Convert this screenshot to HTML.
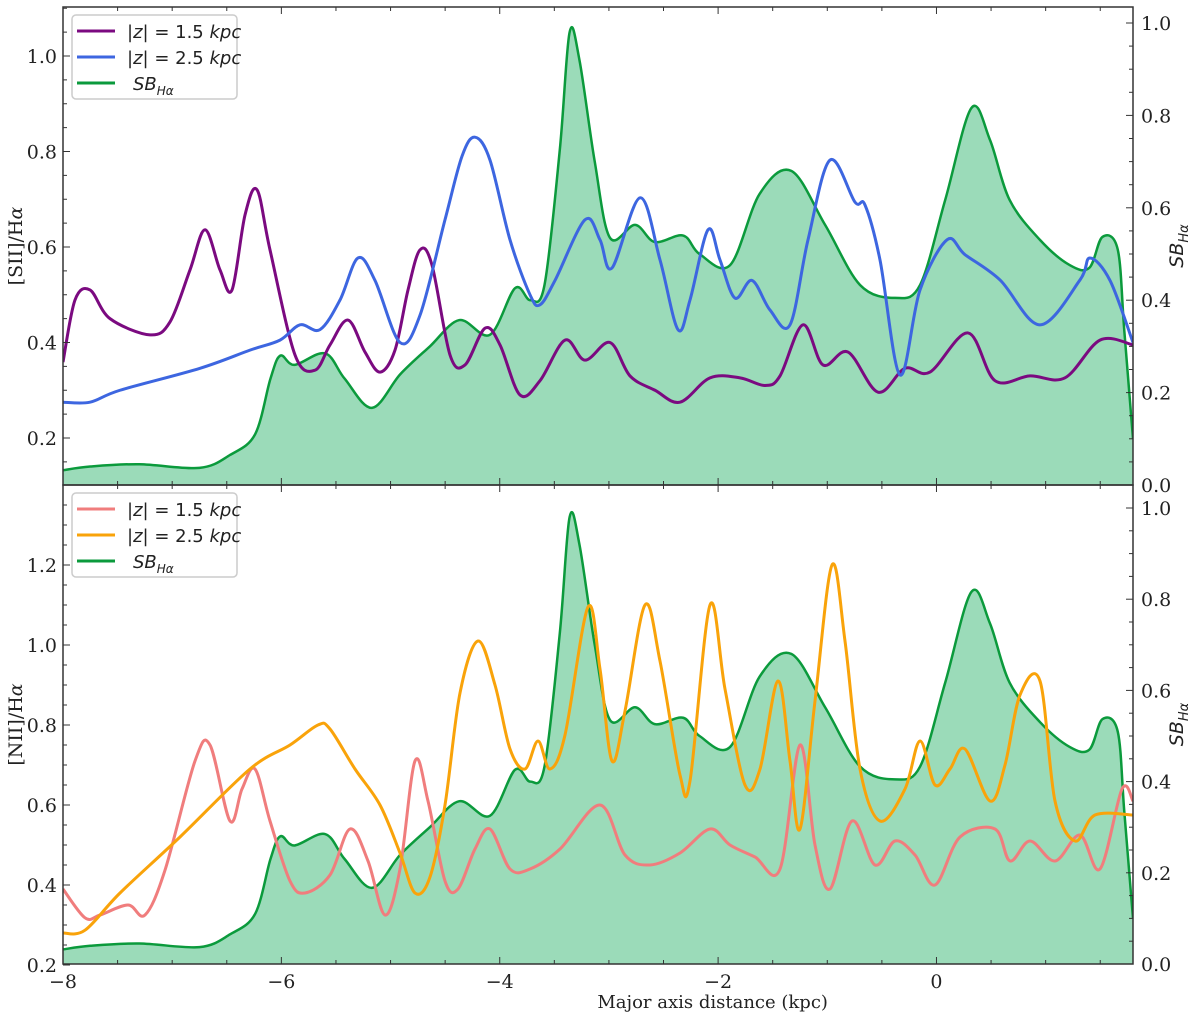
<!DOCTYPE html>
<html><head><meta charset="utf-8"><style>
body{margin:0;background:#fff;}
svg text{font-family:"DejaVu Sans","Liberation Sans",sans-serif;}
.serif{font-family:"DejaVu Serif","Liberation Serif",serif;}
</style></head><body>
<svg id="c" width="1200" height="1015" xmlns="http://www.w3.org/2000/svg"></svg>
<script>
const sbX=[-8,-7.75,-7.3,-6.75,-6.47,-6.24,-6.1,-6.01,-5.88,-5.6,-5.42,-5.17,-4.91,-4.64,-4.37,-4.09,-3.86,-3.72,-3.59,-3.45,-3.36,-3.27,-3.13,-2.99,-2.76,-2.58,-2.32,-2.17,-1.89,-1.62,-1.33,-1.02,-0.7,-0.38,-0.15,0.08,0.32,0.49,0.67,0.95,1.22,1.4,1.52,1.66,1.72,1.8];
const sbV=[0.032,0.04,0.045,0.037,0.065,0.11,0.23,0.28,0.26,0.285,0.23,0.167,0.24,0.3,0.357,0.325,0.426,0.4,0.433,0.725,0.98,0.92,0.7,0.535,0.563,0.526,0.54,0.5,0.476,0.63,0.68,0.563,0.433,0.405,0.433,0.617,0.816,0.747,0.617,0.53,0.476,0.47,0.537,0.51,0.335,0.1];
const pxTop=[63,75,90,110,150,170,190,205,220,232,245,257,270,295,315,330,348,365,380,395,408,420,432,450,465,485,500,520,540,565,585,610,630,655,680,710,740,765,780,803,823,848,878,905,930,968,995,1030,1065,1100,1133];
const s15=[0.359,0.489,0.51,0.45,0.416,0.443,0.552,0.636,0.552,0.51,0.667,0.72,0.594,0.374,0.342,0.395,0.447,0.38,0.338,0.384,0.51,0.594,0.562,0.374,0.353,0.43,0.395,0.29,0.32,0.405,0.363,0.4,0.33,0.3,0.275,0.326,0.326,0.31,0.33,0.437,0.353,0.38,0.296,0.346,0.338,0.42,0.32,0.33,0.326,0.405,0.395];
const pxBlue=[63,90,120,200,250,280,300,320,340,358,375,400,420,445,462,475,490,510,530,540,555,585,600,612,640,660,678,690,708,720,735,752,770,790,808,830,855,865,880,900,920,947,965,1000,1040,1080,1090,1110,1133];
const s25=[0.275,0.275,0.3,0.346,0.384,0.405,0.437,0.427,0.489,0.577,0.53,0.4,0.457,0.657,0.79,0.83,0.782,0.615,0.5,0.479,0.53,0.657,0.615,0.556,0.703,0.573,0.427,0.489,0.636,0.573,0.493,0.53,0.468,0.437,0.615,0.782,0.694,0.688,0.573,0.332,0.51,0.615,0.584,0.531,0.437,0.531,0.577,0.53,0.4];
const pxPink=[63,85,100,128,145,165,195,210,230,242,255,270,290,305,330,350,368,385,400,415,428,445,458,475,490,510,530,560,600,625,650,680,710,730,755,780,800,815,830,852,875,895,915,935,960,995,1010,1030,1055,1080,1100,1122,1133];
const n15=[0.39,0.318,0.325,0.35,0.325,0.437,0.71,0.75,0.56,0.64,0.69,0.56,0.41,0.38,0.425,0.54,0.46,0.325,0.44,0.71,0.61,0.41,0.39,0.49,0.54,0.44,0.44,0.49,0.6,0.475,0.45,0.48,0.54,0.5,0.47,0.44,0.75,0.5,0.39,0.56,0.45,0.51,0.475,0.4,0.52,0.54,0.46,0.51,0.46,0.525,0.44,0.64,0.61];
const pxOr=[63,85,120,180,250,290,318,330,355,380,400,415,430,445,460,478,495,510,525,538,550,565,588,600,612,625,645,660,680,690,710,725,745,760,778,790,800,815,832,845,860,880,905,920,935,950,965,990,1005,1020,1040,1055,1075,1095,1133];
const n25=[0.28,0.287,0.38,0.52,0.69,0.75,0.8,0.79,0.69,0.6,0.48,0.38,0.42,0.6,0.88,1.01,0.9,0.74,0.69,0.76,0.69,0.775,1.095,0.94,0.71,0.835,1.1,0.96,0.675,0.66,1.1,0.89,0.65,0.69,0.91,0.71,0.54,0.86,1.2,1.01,0.69,0.56,0.64,0.76,0.65,0.69,0.74,0.61,0.7,0.875,0.91,0.61,0.51,0.575,0.575];
const xTicks=[-8,-6,-4,-2,0];
const topLTicks=[0.2,0.4,0.6,0.8,1.0];
const botLTicks=[0.2,0.4,0.6,0.8,1.0,1.2];
const rTicks=[0.0,0.2,0.4,0.6,0.8,1.0];

const NS="http://www.w3.org/2000/svg";
const svg=document.getElementById('c');
const X0=63,X1=1133;
const X=v=>X0+(v+8)*(X1-X0)/9.8;
const P2K=p=>(p-X0)*9.8/(X1-X0)-8;
const T={top:7,bot:485,L:v=>56+(1.0-v)*477.5,R:v=>485-v*462};
const B={top:485,bot:964,L:v=>565+(1.2-v)*400,R:v=>964-v*456};
function el(t,a,p){const e=document.createElementNS(NS,t);for(const k in a)e.setAttribute(k,a[k]);(p||svg).appendChild(e);return e;}
function path(xs,ys){let pts=xs.map((x,i)=>[x,ys[i]]);let d=`M${pts[0][0]},${pts[0][1]}`;
 for(let i=0;i<pts.length-1;i++){const p0=pts[Math.max(0,i-1)],p1=pts[i],p2=pts[i+1],p3=pts[Math.min(pts.length-1,i+2)];
 d+=` C${p1[0]+(p2[0]-p0[0])/6},${p1[1]+(p2[1]-p0[1])/6} ${p2[0]-(p3[0]-p1[0])/6},${p2[1]-(p3[1]-p1[1])/6} ${p2[0]},${p2[1]}`;}return d;}
const clipD=el('defs',{});
function panel(P,name,ylab,lt,series,legendLabels){
 const g=el('g',{});
 
 
 const cp=el('clipPath',{id:'cp'+name},clipD);el('rect',{x:X0,y:P.top,width:X1-X0,height:P.bot-P.top},cp);
 const cg=el('g',{'clip-path':`url(#cp${name})`},g);
 const sx=sbX.map(X),sy=sbV.map(P.R);
 const fill=el('path',{d:path(sx,sy)+` L${sx[sx.length-1]},${P.R(0)} L${sx[0]},${P.R(0)} Z`,fill:'#9bdbb9',stroke:'none'},cg);
 
 
 const sl=el('path',{d:path(sx,sy),fill:'none',stroke:'#0b9a3c','stroke-width':2.5},cg);
 
 
 series.forEach(s=>{const l=el('path',{d:path(s.px.map(p=>X(P2K(p))),s.v.map(P.L)),fill:'none',stroke:s.c,'stroke-width':3},cg);
  
  });
 el('rect',{x:X0,y:P.top,width:X1-X0,height:P.bot-P.top,fill:'none',stroke:'#333','stroke-width':1.5},g);
 xTicks.forEach(v=>{el('line',{x1:X(v),x2:X(v),y1:P.bot,y2:P.bot-7,stroke:'#333'},g);el('line',{x1:X(v),x2:X(v),y1:P.top,y2:P.top+7,stroke:'#333'},g);});
 for(let v=-7.5;v<1.8;v+=0.5){if(v%2===0)continue;el('line',{x1:X(v),x2:X(v),y1:P.bot,y2:P.bot-4,stroke:'#333'},g);el('line',{x1:X(v),x2:X(v),y1:P.top,y2:P.top+4,stroke:'#333'},g);}
 lt.forEach(v=>{const y=P.L(v);el('line',{x1:X0,x2:X0+7,y1:y,y2:y,stroke:'#333'},g);
  const t=el('text',{x:X0-6,y:y+7,'text-anchor':'end','font-size':19,fill:'#222',class:'serif'},g);t.textContent=v.toFixed(1);
  
  });
 for(let v=0.15;v<1.4;v+=0.05){const y=P.L(v);if(y<P.top||y>P.bot)continue;el('line',{x1:X0,x2:X0+4,y1:y,y2:y,stroke:'#333'},g);}
 rTicks.forEach(v=>{const y=P.R(v);el('line',{x1:X1,x2:X1-7,y1:y,y2:y,stroke:'#333'},g);
  const t=el('text',{x:X1+8,y:y+7,'font-size':19,fill:'#222',class:'serif'},g);t.textContent=v.toFixed(1);
  
  });
 for(let v=0.05;v<1.05;v+=0.05){if(Math.abs(v*5-Math.round(v*5))<0.01)continue;const y=P.R(v);el('line',{x1:X1,x2:X1-4,y1:y,y2:y,stroke:'#333'},g);}
 const my=(P.top+P.bot)/2;
 const yl=el('text',{x:22,y:my,'text-anchor':'middle','font-size':19,fill:'#222',class:'serif',transform:`rotate(-90 22 ${my})`},g);yl.innerHTML=ylab;
 
 
 const rl=el('text',{x:1183,y:my,'text-anchor':'middle','font-size':19,fill:'#222','font-style':'italic',transform:`rotate(-90 1183 ${my})`},g);rl.innerHTML='SB<tspan font-size="13" dy="5">Hα</tspan>';
 
 
 const ly=P.top+8;
 const lg=el('g',{},g);
 
 
 el('rect',{x:72,y:ly,width:165,height:84,rx:4,fill:'#fff','fill-opacity':0.85,stroke:'#ccc','stroke-width':1.5},lg);
 const cols=[series[0].c,series[1].c,'#0b9a3c'];
 [0,1,2].forEach(i=>{const y=ly+16+i*26;el('line',{x1:77,x2:115,y1:y,y2:y,stroke:cols[i],'stroke-width':3},lg);
  const t=el('text',{x:i<2?127:133,y:y+7,'font-size':18,fill:'#222'},lg);t.innerHTML=legendLabels[i];
  
  });
}
const zl=v=>`|<tspan font-style="italic">z</tspan>| = ${v} <tspan font-style="italic">kpc</tspan>`;
const sbl='<tspan font-style="italic">SB<tspan font-size="12" dy="5">Hα</tspan></tspan>';
panel(T,'top','[SII]/H<tspan font-style="italic">α</tspan>',topLTicks,[{px:pxTop,v:s15,c:'#7b0a80',n:'sii-z1p5-line'},{px:pxBlue,v:s25,c:'#3d66e0',n:'sii-z2p5-line'}],[zl('1.5'),zl('2.5'),sbl]);
panel(B,'bottom','[NII]/H<tspan font-style="italic">α</tspan>',botLTicks,[{px:pxPink,v:n15,c:'#f07d7d',n:'nii-z1p5-line'},{px:pxOr,v:n25,c:'#f9a30a',n:'nii-z2p5-line'}],[zl('1.5'),zl('2.5'),sbl]);
xTicks.forEach(v=>{const t=el('text',{x:X(v),y:988,'text-anchor':'middle','font-size':19,fill:'#222',class:'serif'});t.textContent=v<0?'−'+(-v):String(v);
 
 });
const xt=el('text',{x:X(-2.05),y:1008,'text-anchor':'middle','font-size':18,fill:'#222',class:'serif'});xt.textContent='Major axis distance (kpc)';


</script>
</body></html>
